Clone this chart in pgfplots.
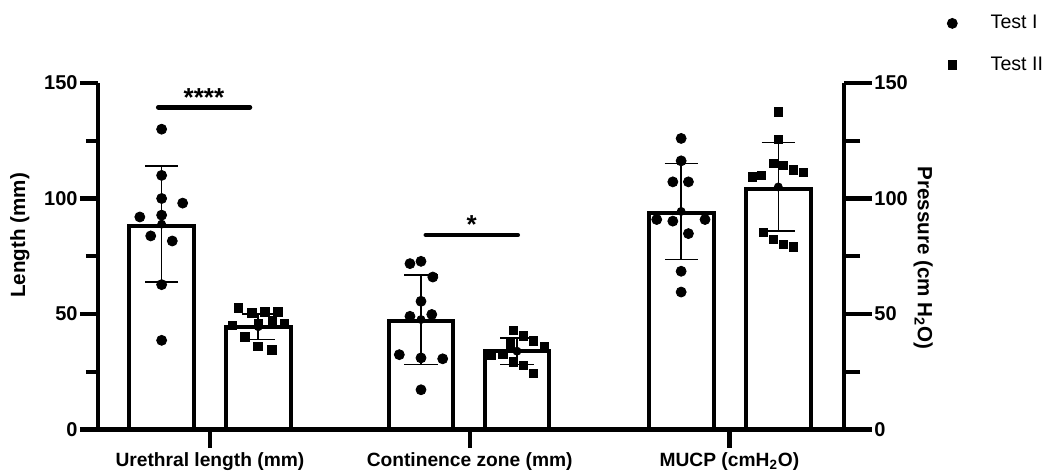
\documentclass[border=0pt]{standalone}
\usepackage{fontspec}
\setmainfont{Liberation Sans}
\usepackage{pgfplots}
\pgfplotsset{compat=1.18}
\begin{document}
\begin{tikzpicture}
\useasboundingbox (-49pt,-22.75pt) rectangle (477pt,214.75pt);
\begin{axis}[
  scale only axis, width=373pt, height=173.25pt,
  xmin=-0.431, xmax=2.441, ymin=0, ymax=150,
  clip=false,
  axis x line*=bottom, axis y line*=left,
  axis line style={line width=2.2pt, -},
  xtick={0,1,2},
  xticklabels={Urethral length (mm), Continence zone (mm), MUCP (cmH\textsubscript{2}O)},
  ytick={0,50,100,150}, minor ytick={25,75,125},
  tick align=outside,
  major tick length=9pt, minor tick length=6pt,
  major tick style={line width=2.2pt, black},
  minor tick style={line width=2.2pt, black},
  /pgf/number format/assume math mode=true,
  yticklabel style={font=\bfseries\fontsize{10}{12}\selectfont, inner xsep=1pt},
  xticklabel style={font=\bfseries\fontsize{9.6}{11}\selectfont, inner ysep=2.5pt},
  ylabel={Length (mm)},
  ylabel style={font=\bfseries\fontsize{10.3}{12}\selectfont, at={(axis description cs:-0.1046,0.56)}, anchor=center},
  legend style={at={(axis description cs:1.128,1.22)}, anchor=north west, draw=none, fill=none,
    font=\fontsize{9.8}{11}\selectfont, row sep=8.5pt},
  legend cell align=left,
  legend image code/.code={\draw[#1] plot coordinates {(0pt,0pt)}; \path (-3pt,0pt) (17pt,0pt);},
]
\addplot[ybar, bar width=0.25, bar shift=0pt, draw=black, fill=white, line width=2pt, forget plot]
  coordinates {(-0.186,88) (0.186,44.5) (0.8125,47) (1.182,33.8) (1.814,93.8) (2.188,104)};
\addplot[only marks, mark=none, forget plot,
  error bars/.cd, y dir=both, y explicit,
  error bar style={line width=0.8pt, black},
  error mark options={rotate=90, mark size=8.3pt, line width=0.8pt, black}]
  coordinates {(-0.186,88.9) +- (0,25.1) (0.186,44.5) +- (0,5.6) (0.8125,47.6) +- (0,19.4)
               (1.182,33.9) +- (0,5.7) (1.814,94.4) +- (0,20.8) (2.188,105) +- (0,19.2)};
\addplot[only marks, mark=*, mark size=2.5pt, black] coordinates {
  (-0.186,130) (-0.186,110) (-0.186,100) (-0.105,98) (-0.270,92) (-0.186,92.8)
  (-0.228,83.8) (-0.145,81.6) (-0.186,62.7) (-0.186,38.6)
  (0.770,71.8) (0.8125,72.8) (0.858,66) (0.8125,55.5) (0.770,49) (0.854,49.8)
  (0.729,32.4) (0.8125,31) (0.896,30.6) (0.8125,17.2)
  (1.814,126) (1.814,116.3) (1.782,107.2) (1.842,107.2) (1.720,90.9) (1.782,90.2)
  (1.906,90.9) (1.842,84.8) (1.814,68.5) (1.814,59.5)};
\addlegendentry{Test I}
\addplot[only marks, mark=square*, mark size=2.1pt, black] coordinates {
  (0.109,52.7) (0.161,50.4) (0.212,50.9) (0.261,50.9) (0.240,47.2) (0.186,45.8)
  (0.086,45.1) (0.286,45.8) (0.135,40) (0.184,36) (0.238,34.5)
  (1.168,42.9) (1.206,40.5) (1.245,38.3) (1.287,36) (1.156,37) (1.083,32.1)
  (1.128,32.8) (1.168,29.2) (1.206,27.7) (1.245,24.4)
  (2.188,137.5) (2.188,125.6) (2.169,115.2) (2.208,114.2) (2.246,112.3) (2.285,111.3)
  (2.088,109.4) (2.124,110.1) (2.131,85.3) (2.169,82.4) (2.208,80.1) (2.246,79.1)};
\addlegendentry{Test II}
\addplot[black, line width=2.3pt, line cap=round, forget plot] coordinates {(-0.199,139.5) (0.154,139.5)};
\addplot[black, line width=2.3pt, line cap=round, forget plot] coordinates {(0.831,84.2) (1.185,84.2)};
\node[font=\bfseries\fontsize{13}{13}\selectfont, anchor=base] at (axis cs:-0.023,140) {****};
\node[font=\bfseries\fontsize{13}{13}\selectfont, anchor=base] at (axis cs:1.008,85) {*};
\end{axis}
\begin{axis}[
  scale only axis, width=373pt, height=173.25pt,
  xmin=-0.431, xmax=2.441, ymin=0, ymax=150,
  axis y line*=right, axis x line=none,
  axis line style={line width=2.2pt, -},
  ytick={0,50,100,150}, minor ytick={25,75,125},
  tick align=outside,
  major tick length=14pt, minor tick length=8pt,
  major tick style={line width=2.2pt, black},
  minor tick style={line width=2.2pt, black},
  /pgf/number format/assume math mode=true,
  yticklabel style={font=\bfseries\fontsize{10}{12}\selectfont, inner xsep=1pt},
  ylabel={Pressure (cm H\textsubscript{2}O)},
  ylabel style={font=\bfseries\fontsize{10.3}{12}\selectfont, at={(axis description cs:1.106,0.495)}, anchor=center, rotate=180},
]
\end{axis}
\end{tikzpicture}
\end{document}
